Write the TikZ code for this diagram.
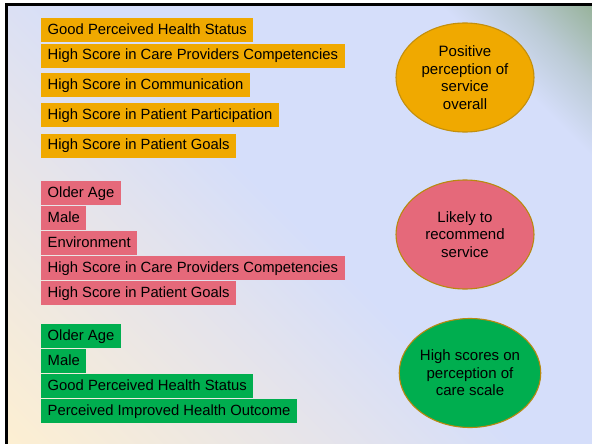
\documentclass[tikz,border=0pt]{standalone}
\usepackage{fontspec}
\setmainfont{Liberation Sans}
\usepackage{tikz}
\usetikzlibrary{positioning, shapes.geometric}
\definecolor{satorange}{HTML}{F0A900}
\definecolor{recpink}{HTML}{E5697A}
\definecolor{scalegreen}{HTML}{00AE4F}
\definecolor{rimgold}{HTML}{B8890F}
\definecolor{bgcream}{HTML}{FDEFD2}
\definecolor{bgmist}{HTML}{E6E4EA}
\definecolor{bgblue}{HTML}{D5DEFA}
\definecolor{bgsteel}{HTML}{BCCBD6}
\definecolor{bggreen}{HTML}{98B39C}
\pgfdeclarehorizontalshading{slidebg}{100bp}{color(0bp)=(bgcream); color(14.6bp)=(bgcream); color(36bp)=(bgmist); color(50bp)=(bgblue); color(75bp)=(bgblue); color(80bp)=(bgsteel); color(85.4bp)=(bggreen); color(100bp)=(bggreen)}
\tikzstyle{factor} = [rectangle, anchor=north west, inner xsep=6.5pt, inner ysep=0pt, minimum height=24pt, text height=11pt, text depth=3pt, font=\fontsize{14.8}{17.6}\selectfont]
\tikzstyle{outcome} = [ellipse, minimum width=138pt, minimum height=109pt, inner sep=0pt, align=center, draw=rimgold, line width=1.1pt, font=\fontsize{15}{17.6}\selectfont]

\begin{document}
\begin{tikzpicture}[x=1pt, y=-1pt]
        \useasboundingbox (0,0) rectangle (592,444);
        \fill [white] (0,0) rectangle (592,444);
        \shade [shading=slidebg, shading angle=45] (6.5,4.5) rectangle (592,444);
        \draw [line width=3pt] (592,4.5) -- (6.5,4.5) -- (6.5,444);

        \node (health) [factor, fill=satorange] at (41,18) {Good Perceived Health Status};
        \node (carecomp) [factor, fill=satorange, below=1pt of health.south west, anchor=north west] {High Score in Care Providers Competencies};
        \node (communication) [factor, fill=satorange, below=5pt of carecomp.south west, anchor=north west] {High Score in Communication};
        \node (participation) [factor, fill=satorange, below=6pt of communication.south west, anchor=north west] {High Score in Patient Participation};
        \node (goals) [factor, fill=satorange, below=6pt of participation.south west, anchor=north west] {High Score in Patient Goals};

        \node (recage) [factor, fill=recpink] at (41,181) {Older Age};
        \node (recmale) [factor, fill=recpink, below=0.8pt of recage.south west, anchor=north west] {Male};
        \node (recenv) [factor, fill=recpink, below=0.4pt of recmale.south west, anchor=north west] {Environment};
        \node (reccare) [factor, fill=recpink, below=0.8pt of recenv.south west, anchor=north west] {High Score in Care Providers Competencies};
        \node (recgoals) [factor, fill=recpink, below=0.4pt of reccare.south west, anchor=north west] {High Score in Patient Goals};

        \node (scaleage) [factor, fill=scalegreen] at (41,324) {Older Age};
        \node (scalemale) [factor, fill=scalegreen, below=0.8pt of scaleage.south west, anchor=north west] {Male};
        \node (scalehealth) [factor, fill=scalegreen, below=0.4pt of scalemale.south west, anchor=north west] {Good Perceived Health Status};
        \node (scaleoutcome) [factor, fill=scalegreen, below=0.8pt of scalehealth.south west, anchor=north west] {Perceived Improved Health Outcome};

        \node (positive) [outcome, fill=satorange, draw=rimgold!80!satorange] at (465,77.5) {Positive\\perception of\\service\\overall};
        \node (likely) [outcome, fill=recpink] at (465,234.5) {Likely to\\recommend\\service};
        \node (highscores) [outcome, fill=scalegreen] at (470,373) {High scores on\\perception of\\care scale};

        \end{tikzpicture}
\end{document}
